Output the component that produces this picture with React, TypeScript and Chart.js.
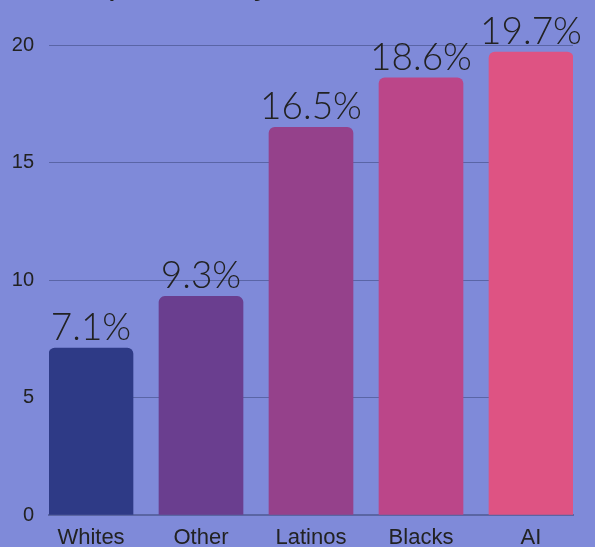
import React, { useEffect, useRef } from 'react';
import { Chart, registerables } from 'chart.js';

Chart.register(...registerables);

const categories = ['Whites', 'Other', 'Latinos', 'Blacks', 'AI'];
const values = [7.1, 9.3, 16.5, 18.6, 19.7];
const valueLabels = ['7.1%', '9.3%', '16.5%', '18.6%', '19.7%'];
const barColors = ['#2e3a86', '#6a3e8f', '#95418b', '#bb4689', '#de5383'];
const yMin = 0;
const yMax = 20;
const yStep = 5;
const titleText = 'In percent by race';

const BG = '#7f8ad9';

export default function App() {
  const ref = useRef<HTMLCanvasElement | null>(null);

  useEffect(() => {
    if (!ref.current) return;
    Chart.defaults.font.family = "'Liberation Sans', Arial, sans-serif";

    const valueLabelPlugin = {
      id: 'valueLabels',
      afterDatasetsDraw(chart: any) {
        const ctx = chart.ctx;
        const meta = chart.getDatasetMeta(0);
        ctx.save();
        ctx.font = "300 37px Lato, 'Liberation Sans', sans-serif";
        ctx.fillStyle = '#222222';
        ctx.textAlign = 'center';
        ctx.textBaseline = 'alphabetic';
        meta.data.forEach((bar: any, i: number) => {
          ctx.fillText(valueLabels[i], bar.x, bar.y - 8);
        });
        ctx.restore();
      },
    };

    const titlePlugin = {
      id: 'cutTitle',
      afterDraw(chart: any) {
        const ctx = chart.ctx;
        ctx.save();
        ctx.font = "35px 'Liberation Sans', Arial, sans-serif";
        ctx.fillStyle = '#222222';
        ctx.textAlign = 'left';
        ctx.textBaseline = 'alphabetic';
        ctx.fillText(titleText, 69, -6);
        ctx.restore();
      },
    };

    const chart = new Chart(ref.current, {
      type: 'bar',
      data: {
        datasets: [
          {
            data: values.map((v, i) => ({ x: i, y: v })),
            backgroundColor: barColors,
            borderWidth: 0,
            borderRadius: 6,
            borderSkipped: 'start',
            barThickness: 84,
          } as any,
        ],
      },
      options: {
        responsive: false,
        animation: false,
        devicePixelRatio: 1,
        layout: { padding: { top: 45, right: 22, left: 0, bottom: 0 } },
        plugins: {
          legend: { display: false },
          tooltip: { enabled: false },
          title: { display: false },
        },
        scales: {
          x: {
            type: 'linear',
            offset: false,
            min: -0.3818,
            max: 4.3818,
            grid: { display: false, drawTicks: false },
            border: { display: true, color: '#5a65a3', width: 2 },
            ticks: {
              stepSize: 1,
              includeBounds: false,
              autoSkip: false,
              maxRotation: 0,
              padding: 10,
              color: '#222222',
              font: { size: 22 },
              callback: (v: any) => categories[v as number] ?? '',
            },
            afterFit: (s: any) => {
              s.height = 32;
            },
          },
          y: {
            min: yMin,
            max: yMax,
            grid: { color: '#5a65a6', lineWidth: 1, drawTicks: false },
            border: { display: false },
            ticks: {
              stepSize: yStep,
              padding: 15,
              color: '#222222',
              font: { size: 20 },
            },
            afterFit: (s: any) => {
              s.width = 49;
            },
          },
        },
      } as any,
      plugins: [valueLabelPlugin, titlePlugin],
    });

    return () => chart.destroy();
  }, []);

  return (
    <div
      style={{
        position: 'fixed',
        left: 0,
        top: 0,
        width: 595,
        height: 547,
        background: BG,
        overflow: 'hidden',
      }}
    >
      <canvas ref={ref} width={595} height={547} style={{ display: 'block' }} />
    </div>
  );
}
